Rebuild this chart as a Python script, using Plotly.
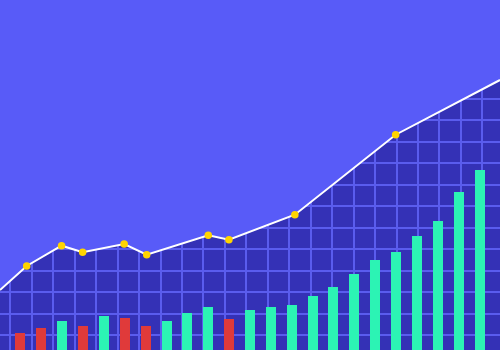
import plotly.graph_objects as go

# Bar series (index = period)
bar_x = list(range(23))
bar_values = [4.77, 6.29, 8.37, 6.86, 9.71, 9.23, 6.86, 8.37, 10.49, 12.29, 8.94,
              11.29, 12.37, 12.86, 15.43, 17.91, 21.63, 25.71, 28.09, 32.57, 36.94,
              45.06, 51.34]
bar_is_down = [1, 1, 0, 1, 0, 1, 1, 0, 0, 0, 1, 0, 0, 0, 0, 0, 0, 0, 0, 0, 0, 0, 0]

# Line series
line_x = [-0.98, 0.30, 1.97, 2.98, 4.97, 6.05, 9.00, 9.99, 13.15, 17.98, 22.98]
line_y = [17.14, 24.00, 29.80, 27.91, 30.29, 27.23, 32.77, 31.51, 38.66, 61.51, 77.14]

LIGHT = "#585BF8"
DARK = "#3431B6"
GRID = "#5A5CEE"
UP = "#2CF3B4"
DOWN = "#E03A3A"
DOT = "#FFD400"

fig = go.Figure()

# sky above the line (covers the grid there)
fig.add_trace(go.Scatter(x=line_x, y=[100] * len(line_x), mode="lines",
                         line=dict(width=0, color=LIGHT), hoverinfo="skip",
                         showlegend=False))
fig.add_trace(go.Scatter(x=line_x, y=line_y, mode="lines", fill="tonexty",
                         fillcolor=LIGHT, line=dict(width=0, color=LIGHT),
                         hoverinfo="skip", showlegend=False))

fig.add_trace(go.Bar(x=bar_x, y=bar_values, width=0.48,
                     marker=dict(color=[DOWN if d else UP for d in bar_is_down],
                                 line=dict(width=0)),
                     showlegend=False))

sizes = [0] + [7.5] * (len(line_x) - 2) + [0]
fig.add_trace(go.Scatter(x=line_x, y=line_y, mode="lines+markers",
                         line=dict(color="white", width=2),
                         marker=dict(color=DOT, size=sizes, opacity=1,
                                     line=dict(width=0)),
                         showlegend=False))

fig.update_layout(
    width=500, height=350, margin=dict(l=0, r=0, t=0, b=0),
    paper_bgcolor=LIGHT, plot_bgcolor=DARK, bargap=0,
    xaxis=dict(range=[-0.98, 22.98], showticklabels=False, ticks="",
               showgrid=True, gridcolor=GRID, gridwidth=1.5,
               tick0=-0.479, dtick=1.0278, zeroline=False, showline=False,
               fixedrange=True),
    yaxis=dict(range=[0, 100], showticklabels=False, ticks="",
               showgrid=True, gridcolor=GRID, gridwidth=1.5,
               tick0=4.286, dtick=6.129, zeroline=False, showline=False,
               fixedrange=True),
)

fig.write_html("out.html", config={"displayModeBar": False})
